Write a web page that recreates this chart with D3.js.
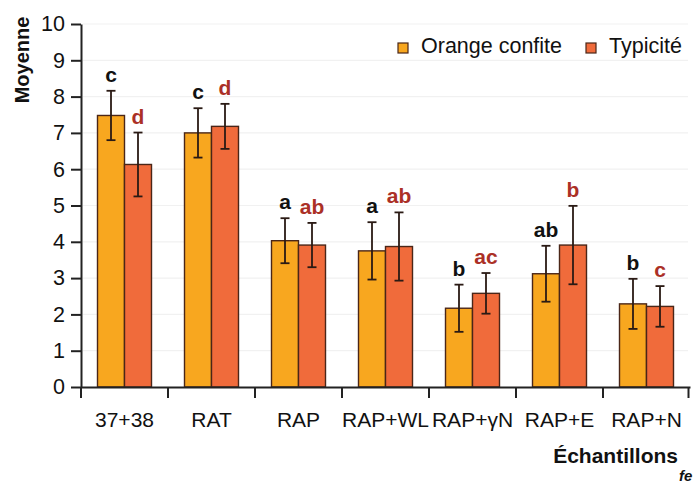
<!DOCTYPE html>
<html>
<head>
<meta charset="utf-8">
<script src="https://cdn.jsdelivr.net/npm/d3@7"></script>
<style>
  body { margin: 0; background: #fff; }
  svg { font-family: "Liberation Sans", Arial, sans-serif; }
</style>
</head>
<body>
<svg id="chart" width="700" height="485"></svg>
<script>
const categories = ["37+38", "RAT", "RAP", "RAP+WL", "RAP+\u03b3N", "RAP+E", "RAP+N"]
const series = ["Orange confite", "Typicité"]
const orangeMean = [7.48, 7.0, 4.03, 3.75, 2.17, 3.12, 2.29]
const orangeErr = [0.68, 0.68, 0.62, 0.79, 0.65, 0.77, 0.69]
const orangeLetters = ["c", "c", "a", "a", "b", "ab", "b"]
const typMean = [6.13, 7.18, 3.91, 3.87, 2.58, 3.91, 2.22]
const typErr = [0.88, 0.62, 0.61, 0.94, 0.56, 1.08, 0.56]
const typLetters = ["d", "d", "ab", "ab", "ac", "b", "c"]
const yTicks = [0, 1, 2, 3, 4, 5, 6, 7, 8, 9, 10]

const colors = ["#f8a71f", "#f06b3b"]
const letterColors = ["#111", "#ab3026"]

const rows = categories.map((c, i) => ({
    cat: c,
    vals: [
        {s: 0, m: orangeMean[i], e: orangeErr[i], l: orangeLetters[i]},
        {s: 1, m: typMean[i], e: typErr[i], l: typLetters[i]}
    ]
}))

const svg = d3.select("#chart")

const x = d3.scaleBand().domain(categories).range([81, 690])
const xs = d3.scaleBand().domain([0, 1]).range([16.5, 70.5])
const y = d3.scaleLinear().domain([0, 10]).range([387, 24])

// faint grid
svg.append("g")
    .selectAll("line")
    .data(yTicks.slice(1))
    .enter()
    .append("line")
    .attr("x1", 83).attr("x2", 688)
    .attr("y1", d => y(d)).attr("y2", d => y(d))
    .attr("stroke", "#f1f1f1")
    .attr("stroke-width", 1.2)

// bars
const groups = svg.append("g")
    .selectAll("g")
    .data(rows)
    .enter()
    .append("g")
    .attr("transform", d => `translate(${x(d.cat)},0)`)

groups.selectAll("rect")
    .data(d => d.vals)
    .enter()
    .append("rect")
    .attr("x", d => xs(d.s))
    .attr("y", d => y(d.m))
    .attr("width", xs.bandwidth())
    .attr("height", d => y(0) - y(d.m))
    .attr("fill", d => colors[d.s])
    .attr("stroke", "#4a2618")
    .attr("stroke-width", 1.4)

// error bars
const err = groups.selectAll("g.err")
    .data(d => d.vals)
    .enter()
    .append("g")
    .attr("class", "err")
    .attr("stroke", "#2a1a14")
    .attr("stroke-width", 1.8)

err.append("line")
    .attr("x1", d => xs(d.s) + xs.bandwidth() / 2)
    .attr("x2", d => xs(d.s) + xs.bandwidth() / 2)
    .attr("y1", d => y(d.m + d.e))
    .attr("y2", d => y(d.m - d.e))
err.append("line")
    .attr("x1", d => xs(d.s) + xs.bandwidth() / 2 - 4.5)
    .attr("x2", d => xs(d.s) + xs.bandwidth() / 2 + 4.5)
    .attr("y1", d => y(d.m + d.e))
    .attr("y2", d => y(d.m + d.e))
err.append("line")
    .attr("x1", d => xs(d.s) + xs.bandwidth() / 2 - 4.5)
    .attr("x2", d => xs(d.s) + xs.bandwidth() / 2 + 4.5)
    .attr("y1", d => y(d.m - d.e))
    .attr("y2", d => y(d.m - d.e))

// significance letters
groups.selectAll("text.sig")
    .data(d => d.vals)
    .enter()
    .append("text")
    .attr("class", "sig")
    .attr("x", d => xs(d.s) + xs.bandwidth() / 2)
    .attr("y", d => y(d.m + d.e) - 9)
    .attr("text-anchor", "middle")
    .attr("font-size", 21)
    .attr("font-weight", "bold")
    .attr("fill", d => letterColors[d.s])
    .text(d => d.l)

// y axis
const yAxis = svg.append("g")
    .attr("transform", "translate(81,0)")
    .call(d3.axisLeft(y).tickValues(yTicks).tickSize(10).tickSizeOuter(0).tickPadding(6))
yAxis.select(".domain").attr("stroke", "#222").attr("stroke-width", 2)
yAxis.selectAll(".tick line").attr("stroke", "#222").attr("stroke-width", 2)
yAxis.selectAll(".tick text")
    .attr("font-size", 21.5)
    .attr("fill", "#111")
    .attr("font-family", "Liberation Sans, Arial, sans-serif")

// x axis
const xAxis = svg.append("g")
    .attr("transform", `translate(0,${y(0)})`)
    .call(d3.axisBottom(x).tickSize(0).tickPadding(30))
xAxis.select(".domain").attr("stroke", "#222").attr("stroke-width", 2)
xAxis.selectAll(".tick text")
    .attr("font-size", 21)
    .attr("fill", "#111")
    .attr("font-family", "Liberation Sans, Arial, sans-serif")
    .attr("dy", "0")
    .attr("y", 40)

const bounds = categories.map(c => x(c)).concat([x.range()[1] - 1.5])
svg.append("g")
    .selectAll("line")
    .data(bounds)
    .enter()
    .append("line")
    .attr("x1", d => d).attr("x2", d => d)
    .attr("y1", y(0)).attr("y2", y(0) + 11)
    .attr("stroke", "#222")
    .attr("stroke-width", 2)

// axis titles
svg.append("text")
    .attr("transform", `translate(29,60) rotate(-90)`)
    .attr("text-anchor", "middle")
    .attr("font-size", 20)
    .attr("font-weight", "bold")
    .attr("fill", "#111")
    .text("Moyenne")

svg.append("text")
    .attr("x", 678).attr("y", 463)
    .attr("text-anchor", "end")
    .attr("font-size", 21)
    .attr("font-weight", "bold")
    .attr("fill", "#111")
    .text("Échantillons")

svg.append("text")
    .attr("x", 679).attr("y", 481)
    .attr("font-size", 15)
    .attr("font-weight", "bold")
    .attr("font-style", "italic")
    .attr("fill", "#111")
    .text("fe")

// legend
const legendX = [398, 586]
const legend = svg.append("g")
    .selectAll("g")
    .data(series)
    .enter()
    .append("g")
    .attr("transform", (d, i) => `translate(${legendX[i]},43)`)
legend.append("rect")
    .attr("width", 10).attr("height", 10)
    .attr("fill", (d, i) => colors[i])
    .attr("stroke", "#4a2618")
    .attr("stroke-width", 1.2)
legend.append("text")
    .attr("x", 23).attr("y", 9.5)
    .attr("font-size", 21.5)
    .attr("fill", "#111")
    .text(d => d)
</script>
</body>
</html>
